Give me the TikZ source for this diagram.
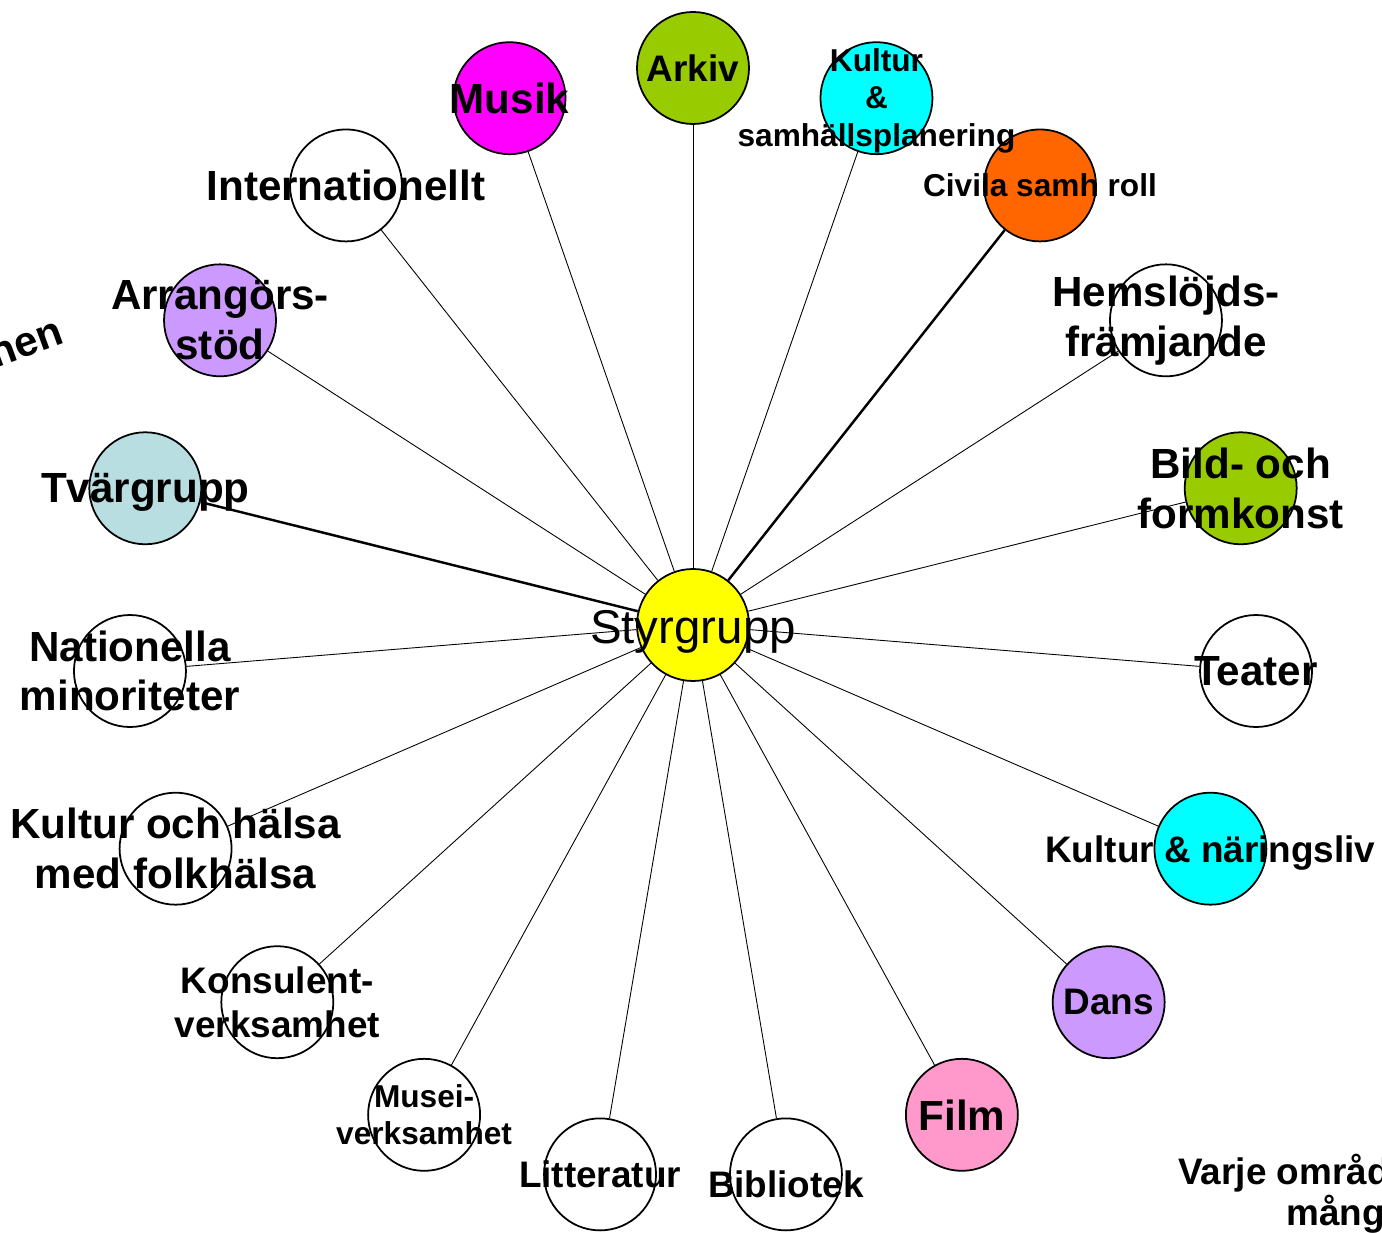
\documentclass[tikz,border=0pt]{standalone}
\usepackage{fontspec}
\setmainfont{Liberation Sans}
\definecolor{styryellow}{RGB}{255,255,0}
\definecolor{arkivgreen}{RGB}{153,204,0}
\definecolor{musikmagenta}{RGB}{255,0,255}
\definecolor{kulturcyan}{RGB}{0,255,255}
\definecolor{civilaorange}{RGB}{255,102,0}
\definecolor{lavender}{RGB}{204,153,255}
\definecolor{tvarblue}{RGB}{185,222,225}
\definecolor{filmpink}{RGB}{255,153,204}

\begin{document}
\begin{tikzpicture}[
  hub/.style={
    circle,
    draw=black,
    line width=1pt,
    minimum size=2.24cm,
    inner sep=0pt
  },
  spoke/.style={draw=black, line width=0.5pt},
  strongspoke/.style={draw=black, line width=1.4pt},
  bigtext/.style={font=\bfseries\fontsize{24}{28.3}\selectfont, align=center, inner sep=0pt},
  midtext/.style={font=\bfseries\fontsize{21}{25}\selectfont, align=center, inner sep=0pt},
  smalltext/.style={font=\bfseries\fontsize{18}{21.3}\selectfont, align=center, inner sep=0pt}
]
\useasboundingbox (-13.86,-12.16) rectangle (13.78,12.5);

% Centre and the ring of groups.
\node[hub, fill=styryellow] (styr) at (0,0) {};
\node[hub, fill=arkivgreen] (arkiv) at (90:11.3cm and 11.14cm) {};
\node[hub, fill=musikmagenta] (musik) at (108.95:11.3cm and 11.14cm) {};
\node[hub] (intern) at (127.89:11.3cm and 11.14cm) {};
\node[hub, fill=lavender] (arrang) at (146.84:11.3cm and 11.14cm) {};
\node[hub, fill=tvarblue] (tvar) at (165.79:11.3cm and 11.14cm) {};
\node[hub] (nationella) at (184.74:11.3cm and 11.14cm) {};
\node[hub] (halsa) at (203.68:11.3cm and 11.14cm) {};
\node[hub] (konsulent) at (222.63:11.3cm and 11.14cm) {};
\node[hub] (musei) at (241.58:11.3cm and 11.14cm) {};
\node[hub] (litteratur) at (260.53:11.3cm and 11.14cm) {};
\node[hub, fill=kulturcyan] (samhplan) at (71.05:11.3cm and 11.14cm) {};
\node[hub, fill=civilaorange] (civila) at (52.11:11.3cm and 11.14cm) {};
\node[hub] (hemslojd) at (33.16:11.3cm and 11.14cm) {};
\node[hub, fill=arkivgreen] (bild) at (14.21:11.3cm and 11.14cm) {};
\node[hub] (teater) at (-4.74:11.3cm and 11.14cm) {};
\node[hub, fill=kulturcyan] (naring) at (-23.68:11.3cm and 11.14cm) {};
\node[hub, fill=lavender] (dans) at (-42.63:11.3cm and 11.14cm) {};
\node[hub, fill=filmpink] (film) at (-61.58:11.3cm and 11.14cm) {};
\node[hub] (bibliotek) at (-80.53:11.3cm and 11.14cm) {};

% Spokes from the steering group.
\draw[spoke] (styr) -- (arkiv);
\draw[spoke] (styr) -- (musik);
\draw[spoke] (styr) -- (intern);
\draw[spoke] (styr) -- (arrang);
\draw[strongspoke] (styr) -- (tvar);
\draw[spoke] (styr) -- (nationella);
\draw[spoke] (styr) -- (halsa);
\draw[spoke] (styr) -- (konsulent);
\draw[spoke] (styr) -- (musei);
\draw[spoke] (styr) -- (litteratur);
\draw[spoke] (styr) -- (samhplan);
\draw[strongspoke] (styr) -- (civila);
\draw[spoke] (styr) -- (hemslojd);
\draw[spoke] (styr) -- (bild);
\draw[spoke] (styr) -- (teater);
\draw[spoke] (styr) -- (naring);
\draw[spoke] (styr) -- (dans);
\draw[spoke] (styr) -- (film);
\draw[spoke] (styr) -- (bibliotek);

% Labels on top of circles and spokes.
\node[font=\fontsize{27}{32}\selectfont, inner sep=0pt, text depth=0pt, yshift=-0.04cm] (styrtxt) at (styr) {Styrgrupp};
\node[midtext] (arkivtxt) at (arkiv) {Arkiv};
\node[bigtext] (musiktxt) at (musik) {Musik};
\node[bigtext] (interntxt) at (intern) {Internationellt};
\node[bigtext] (arrangtxt) at (arrang) {Arrangörs-\\stöd};
\node[bigtext, text depth=0pt] (tvartxt) at (tvar) {Tvärgrupp};
\node[bigtext] (nationellatxt) at (nationella) {Nationella\\minoriteter};
\node[bigtext] (halsatxt) at (halsa) {Kultur och hälsa\\med folkhälsa};
\node[midtext] (konsulenttxt) at (konsulent) {Konsulent-\\verksamhet};
\node[smalltext] (museitxt) at (musei) {Musei-\\verksamhet};
\node[midtext] (litteraturtxt) at (litteratur) {Litteratur};
\node[smalltext, yshift=-0.05cm] (samhplantxt) at (samhplan) {Kultur\\\&\\samhällsplanering};
\node[smalltext] (civilatxt) at (civila) {Civila samh roll};
\node[bigtext] (hemslojdtxt) at (hemslojd) {Hemslöjds-\\främjande};
\node[bigtext] (bildtxt) at (bild) {Bild- och\\formkonst};
\node[bigtext] (teatertxt) at (teater) {Teater};
\node[midtext, text depth=0pt] (naringtxt) at (naring) {Kultur \& näringsliv};
\node[midtext] (danstxt) at (dans) {Dans};
\node[bigtext] (filmtxt) at (film) {Film};
\node[midtext, yshift=-0.2cm] (bibliotektxt) at (bibliotek) {Bibliotek};

% Texts cut by the page edge.
\node[font=\bfseries\fontsize{24}{28.3}\selectfont, inner sep=0pt, rotate=20, anchor=base east] (hentxt) at (-12.54,5.64) {hen};
\node[font=\bfseries\fontsize{21}{25}\selectfont, inner sep=0pt, anchor=base west] (varje1) at (9.7,-11.2) {Varje område};
\node[font=\bfseries\fontsize{21}{25}\selectfont, inner sep=0pt, anchor=base west] (varje2) at (11.86,-12.02) {många};
\end{tikzpicture}
\end{document}
